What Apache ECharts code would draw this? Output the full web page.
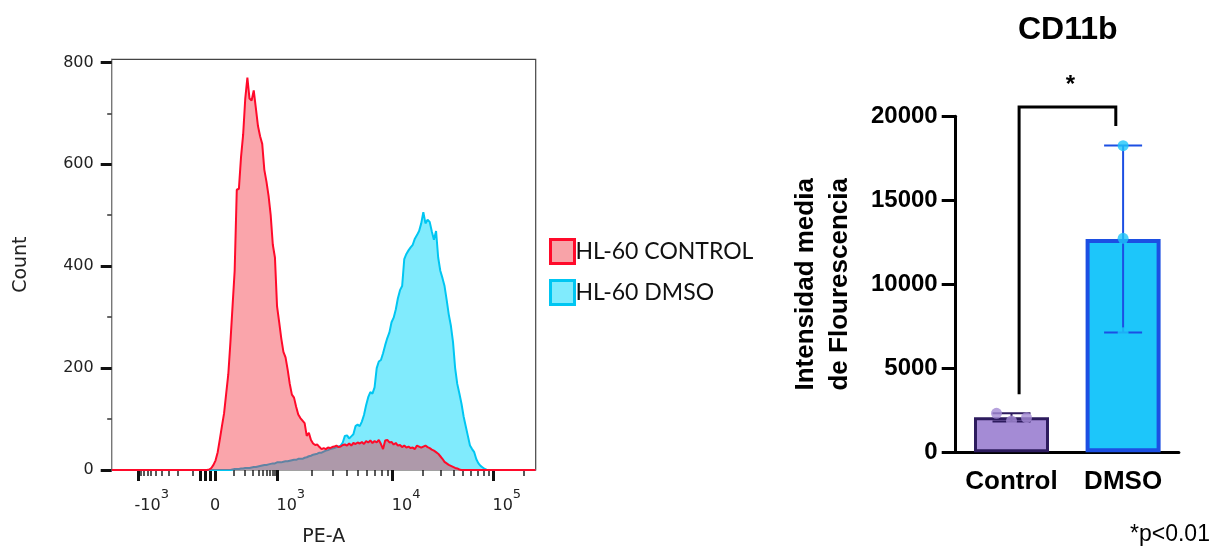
<!DOCTYPE html>
<html>
<head>
<meta charset="utf-8">
<script src="https://cdn.jsdelivr.net/npm/echarts@6/dist/echarts.min.js"></script>
<style>
  html, body { margin: 0; padding: 0; background: #fff; }
  #chart { width: 1213px; height: 552px; }
</style>
</head>
<body>
<div id="chart"></div>
<script>
  // histogram bins, on the biexponential display scale (0 - 1000)
  const binStart = 220;
  const binStep = 5;
  const seriesNames = ['HL-60 CONTROL', 'HL-60 DMSO'];

  const controlCounts = [
    0, 0, 1, 4, 10, 19, 35, 60, 86, 111,
    150, 188, 251, 321, 391, 550, 552, 614, 658, 729,
    770, 729, 725, 745, 710, 675, 655, 640, 589, 566,
    538, 500, 442, 417, 321, 290, 258, 232, 221, 197,
    169, 148, 142, 124, 109, 102, 97, 92, 67, 73,
    59, 52, 49, 50, 45, 41, 43, 41, 44, 43,
    45, 46, 48, 45, 46, 49, 50, 48, 52, 48,
    53, 51, 54, 52, 55, 51, 57, 54, 58, 53,
    57, 54, 59, 51, 41, 58, 59, 54, 55, 50,
    53, 48, 49, 45, 48, 44, 46, 43, 44, 41,
    48, 46, 44, 46, 48, 45, 43, 40, 38, 35,
    32, 27, 22, 16, 13, 10, 8, 6, 4, 3,
    1, 0, 0, 0, 0, 0, 0, 0, 0, 0,
    0, 0, 0, 0, 0, 0, 0
  ];

  const dmsoCounts = [
    0, 0, 0, 0, 0, 0, 0, 0, 0, 0,
    0, 0, 0, 1, 2, 2, 2, 3, 3, 4,
    4, 4, 5, 6, 6, 7, 8, 9, 10, 10,
    11, 12, 13, 13, 15, 15, 15, 16, 17, 17,
    18, 19, 20, 20, 22, 22, 22, 24, 25, 27,
    28, 30, 31, 32, 34, 34, 36, 38, 39, 41,
    42, 43, 45, 46, 48, 54, 67, 68, 62, 66,
    70, 86, 89, 86, 95, 108, 127, 143, 153, 150,
    162, 200, 213, 216, 229, 245, 259, 270, 290, 299,
    315, 337, 353, 361, 414, 424, 431, 437, 442, 454,
    461, 469, 484, 506, 484, 491, 487, 468, 452, 469,
    417, 391, 377, 361, 334, 305, 283, 251, 200, 169,
    150, 130, 105, 86, 67, 48, 41, 35, 21, 13,
    8, 5, 2, 0, 0, 0, 0
  ];

  // PE-A axis ticks (data units) and their labels
  const xMajorTicks = [-1000, 0, 1000, 10000, 100000];
  const xTickLabels = [['-10', '3'], ['0', ''], ['10', '3'], ['10', '4'], ['10', '5']];
  const xZeroClump = [-60, -40, -20];
  const xMinorTicks = [
    -900, -800, -700, -600, -500, -400, -300, -200, -100,
    100, 200, 300, 400, 500, 600, 700, 800, 900,
    2000, 3000, 4000, 5000, 6000, 7000, 8000, 9000,
    20000, 30000, 40000, 50000, 60000, 70000, 80000, 90000, 200000
  ];
  const yCountTicks = [0, 200, 400, 600, 800];
  const yCountMinor = [100, 300, 500, 700];

  // CD11b bar chart
  const groups = ['Control', 'DMSO'];
  const means = [2080, 12700];
  const sds = [250, 5565];
  const points = [[2321, 1863, 2060], [18250, 12740, 7120]];
  const bracketY = [3450, 20560, 19420];

  // biexponential display transform of the cytometer axis
  function biex(v) {
    if (v >= 10000) return 662.7 + (Math.log10(v) - 4) * 237.3;
    if (v >= 1000) return 390.6 + (Math.log10(v) - 3) * 272.1;
    const s = Math.asinh(Math.abs(v) / 100) / Math.asinh(10);
    return v >= 0 ? 243.6 + 147 * s : 243.6 - 180.9 * s;
  }

  const toPairs = counts => [[0, 0]]
    .concat(counts.map((c, i) => [binStart + i * binStep, c]))
    .concat([[1000, 0]]);

  const labelPos = xMajorTicks.map(biex);
  const barFill = ['#a48bd5', '#1dc6fa'];
  const barEdge = ['#2d1b5e', '#1c4fe3'];
  const jitter = [[-15, 0, 15], [0, 0, 0]];

  const flowFont = 'DejaVu Sans';
  const barFont = 'Liberation Sans';

  const myChart = echarts.init(document.getElementById('chart'));

  const option = {
    animation: false,
    title: {
      text: 'CD11b',
      left: 1013,
      top: 9,
      textStyle: {fontSize: 32, fontWeight: 'bold', fontFamily: barFont, color: '#000'}
    },
    legend: {
      orient: 'vertical',
      left: 549,
      top: 238,
      padding: 0,
      itemWidth: 24,
      itemHeight: 24,
      itemGap: 14,
      icon: 'rect',
      selectedMode: false,
      data: [
        {name: seriesNames[0], itemStyle: {color: '#f8a3a8', borderColor: '#ff0a2a', borderWidth: 3}},
        {name: seriesNames[1], itemStyle: {color: '#80ebfd', borderColor: '#00c6f2', borderWidth: 3}}
      ],
      textStyle: {fontFamily: 'Lato', fontSize: 23, color: '#111', padding: [0, 0, 0, -4]}
    },
    graphic: [
      {
        type: 'text',
        left: 1130,
        top: 523,
        style: {text: '*p<0.01', fontSize: 23, fontFamily: barFont, fill: '#000'}
      }
    ],
    grid: [
      {left: 111.7, top: 59.3, width: 424, height: 422.4, show: true, borderColor: '#444', borderWidth: 1.2},
      {left: 955.7, top: 116.3, width: 223.2, height: 336}
    ],
    xAxis: [
      {
        gridIndex: 0, type: 'value', min: 0, max: 1000, position: 'bottom',
        axisLine: {show: false},
        splitLine: {show: false},
        axisTick: {
          show: true,
          customValues: xMajorTicks.concat(xZeroClump).map(biex),
          length: 11,
          lineStyle: {color: '#111', width: 3}
        },
        axisLabel: {
          customValues: labelPos,
          margin: 18,
          formatter: function (value) {
            const i = labelPos.findIndex(p => Math.abs(p - value) < 0.01);
            if (i < 0) return '';
            const lab = xTickLabels[i];
            return lab[1] ? '{b|' + lab[0] + '}{e|' + lab[1] + '}' : '{z|' + lab[0] + '}';
          },
          rich: {
            b: {fontSize: 16, fontFamily: flowFont, color: '#222', lineHeight: 26, verticalAlign: 'bottom', padding: [0, 0, 0, 27]},
            e: {fontSize: 13, fontFamily: flowFont, color: '#222', lineHeight: 12, verticalAlign: 'top'},
            z: {fontSize: 16, fontFamily: flowFont, color: '#222', lineHeight: 26, verticalAlign: 'bottom'}
          }
        },
        name: 'PE-A',
        nameLocation: 'middle',
        nameGap: 58,
        nameTextStyle: {fontSize: 19, fontFamily: flowFont, color: '#222', verticalAlign: 'top'}
      },
      {
        gridIndex: 0, type: 'value', min: 0, max: 1000, position: 'bottom',
        axisLine: {show: false},
        splitLine: {show: false},
        axisLabel: {show: false},
        axisTick: {show: true, customValues: xMinorTicks.map(biex), length: 6, lineStyle: {color: '#222', width: 1.5}}
      },
      {
        gridIndex: 1, type: 'category', data: groups,
        axisLine: {lineStyle: {color: '#000', width: 3}},
        axisTick: {alignWithLabel: true, length: 14, lineStyle: {color: '#000', width: 3}},
        axisLabel: {interval: 0, fontSize: 26, fontWeight: 'bold', fontFamily: barFont, color: '#000', margin: 17}
      }
    ],
    yAxis: [
      {
        gridIndex: 0, type: 'value', min: 0, max: 806,
        axisLine: {show: true, lineStyle: {color: '#777', width: 1}},
        splitLine: {show: false},
        axisTick: {show: true, customValues: yCountTicks, length: 11, lineStyle: {color: '#111', width: 3}},
        axisLabel: {customValues: yCountTicks, fontSize: 16, fontFamily: flowFont, color: '#222', margin: 18},
        name: 'Count',
        nameLocation: 'middle',
        nameRotate: 90,
        nameGap: 81,
        nameTextStyle: {fontSize: 19, fontFamily: flowFont, color: '#222'}
      },
      {
        gridIndex: 0, type: 'value', min: 0, max: 806, position: 'left',
        axisLine: {show: false},
        splitLine: {show: false},
        axisLabel: {show: false},
        axisTick: {show: true, customValues: yCountMinor, length: 4.5, lineStyle: {color: '#333', width: 1.5}}
      },
      {
        gridIndex: 1, type: 'value', min: 0, max: 20000, interval: 5000,
        axisLine: {show: true, lineStyle: {color: '#000', width: 3}},
        splitLine: {show: false},
        axisTick: {show: true, length: 14, lineStyle: {color: '#000', width: 3}},
        axisLabel: {
          fontSize: 24, fontWeight: 'bold', fontFamily: barFont, color: '#000', margin: 18,
          formatter: value => String(value)
        },
        name: 'Intensidad media\nde Flourescencia',
        nameLocation: 'middle',
        nameRotate: 90,
        nameGap: 99,
        nameTextStyle: {fontSize: 26, fontWeight: 'bold', fontFamily: barFont, color: '#000', lineHeight: 34, align: 'center'}
      }
    ],
    series: [
      {
        name: seriesNames[1],
        type: 'line',
        xAxisIndex: 0,
        yAxisIndex: 0,
        data: toPairs(dmsoCounts),
        symbol: 'none',
        z: 2,
        lineStyle: {color: '#00c6f2', width: 2},
        itemStyle: {color: '#00c6f2'},
        areaStyle: {color: '#80ebfd', opacity: 1}
      },
      {
        name: seriesNames[0],
        type: 'line',
        xAxisIndex: 0,
        yAxisIndex: 0,
        data: toPairs(controlCounts),
        symbol: 'none',
        z: 3,
        lineStyle: {color: '#ff0a2a', width: 2},
        itemStyle: {color: '#ff0a2a'},
        areaStyle: {color: 'rgba(242, 30, 45, 0.4)', opacity: 1}
      },
      {
        type: 'bar',
        xAxisIndex: 2,
        yAxisIndex: 2,
        barWidth: 75,
        z: 2,
        data: means.map((m, i) => ({
          value: m,
          itemStyle: {color: barFill[i], borderColor: barEdge[i], borderWidth: i ? 4 : 3}
        }))
      },
      {
        type: 'custom',
        xAxisIndex: 2,
        yAxisIndex: 2,
        z: 3,
        data: means.map((m, i) => [i, m, sds[i]]),
        renderItem: function (params, api) {
          const i = api.value(0);
          const top = api.coord([i, api.value(1) + api.value(2)]);
          const bot = api.coord([i, api.value(1) - api.value(2)]);
          const style = {stroke: barEdge[i], lineWidth: 2};
          const half = 19;
          return {
            type: 'group',
            children: [
              {type: 'line', shape: {x1: top[0], y1: top[1], x2: bot[0], y2: bot[1]}, style: style},
              {type: 'line', shape: {x1: top[0] - half, y1: top[1], x2: top[0] + half, y2: top[1]}, style: style},
              {type: 'line', shape: {x1: bot[0] - half, y1: bot[1], x2: bot[0] + half, y2: bot[1]}, style: style}
            ]
          };
        }
      },
      {
        type: 'scatter',
        xAxisIndex: 2,
        yAxisIndex: 2,
        z: 4,
        symbolSize: 11,
        data: points.flatMap((vals, g) => vals.map((v, k) => ({
          value: [g, v],
          symbolOffset: [jitter[g][k], 0],
          itemStyle: {color: barFill[g]}
        })))
      },
      {
        type: 'custom',
        xAxisIndex: 2,
        yAxisIndex: 2,
        z: 5,
        data: [[0, 1]],
        renderItem: function (params, api) {
          const a = api.coord([0, bracketY[0]]);
          const t = api.coord([0, bracketY[1]]);
          const b = api.coord([1, bracketY[2]]);
          const x1 = a[0] + 7.6;
          const x2 = b[0] - 7.3;
          return {
            type: 'group',
            children: [
              {
                type: 'polyline',
                shape: {points: [[x1, a[1]], [x1, t[1]], [x2, t[1]], [x2, b[1]]]},
                style: {stroke: '#000', lineWidth: 3, fill: null}
              },
              {
                type: 'text',
                style: {
                  text: '*', x: (x1 + x2) / 2 + 3, y: t[1] - 22,
                  fontSize: 24, fontWeight: 'bold', fontFamily: barFont, fill: '#000',
                  align: 'center', verticalAlign: 'middle'
                }
              }
            ]
          };
        }
      }
    ]
  };

  myChart.setOption(option);
</script>
</body>
</html>
